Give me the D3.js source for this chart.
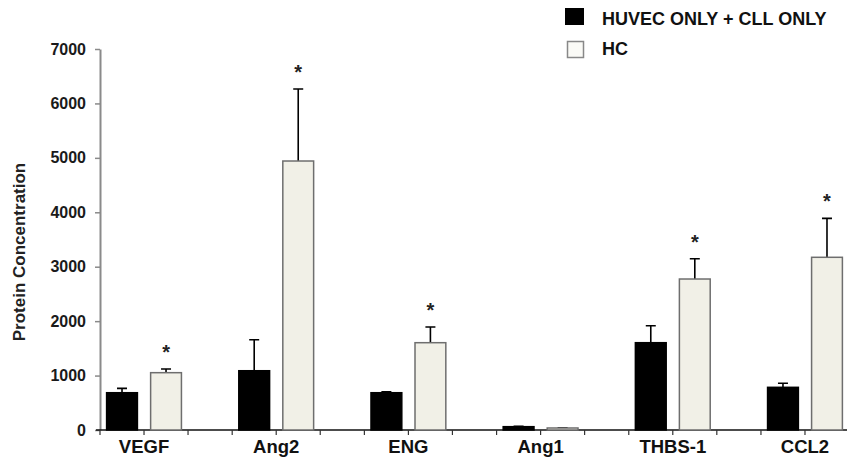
<!DOCTYPE html>
<html>
<head>
<meta charset="utf-8">
<script src="https://cdn.jsdelivr.net/npm/d3@7"></script>
<style>
  body { margin: 0; background: #fff; }
  text { font-family: "Liberation Sans", Arial, sans-serif; }
</style>
</head>
<body>
<div id="chart"></div>
<script>
const categories = ["VEGF", "Ang2", "ENG", "Ang1", "THBS-1", "CCL2"];
const seriesNames = ["HUVEC ONLY + CLL ONLY", "HC"];
const controlValues = [685, 1089, 685, 61, 1604, 784];
const controlErrors = [80, 570, 15, 5, 312, 74];
const hcValues = [1053, 4942, 1604, 37, 2774, 3173];
const hcErrors = [68, 1323, 288, 5, 373, 716];
const significant = [true, true, true, false, true, true];
const yTicks = [0, 1000, 2000, 3000, 4000, 5000, 6000, 7000];

const width = 847;
const height = 466;

const rows = categories.map((c, i) => ({
    category: c,
    bars: [
        { series: seriesNames[0], value: controlValues[i], error: controlErrors[i] },
        { series: seriesNames[1], value: hcValues[i], error: hcErrors[i] }
    ],
    star: significant[i]
}));

const svg = d3.select("#chart")
    .append("svg")
    .attr("width", width)
    .attr("height", height);

const x = d3.scaleBand()
    .domain(categories)
    .range([100, 849])
    .paddingInner(0.334)
    .paddingOuter(0);

const xSub = d3.scaleBand()
    .domain(seriesNames)
    .range([0, x.bandwidth()])
    .paddingInner(0.3)
    .paddingOuter(0.15);

const y = d3.scaleLinear()
    .domain([0, 7000])
    .range([430, 49]);

const colors = { [seriesNames[0]]: "#000", [seriesNames[1]]: "#f1f0e7" };
const strokes = { [seriesNames[0]]: "#000", [seriesNames[1]]: "#6e6e6e" };

// y axis
const yAxis = svg.append("g")
    .attr("transform", "translate(100,0)")
    .call(d3.axisLeft(y).tickValues(yTicks).tickFormat(d3.format("d"))
        .tickSize(5).tickPadding(9).tickSizeOuter(0));
yAxis.select(".domain").attr("stroke", "#8a8a8a").attr("stroke-width", 2);
yAxis.selectAll(".tick line").attr("stroke", "#8a8a8a").attr("stroke-width", 1.5);
yAxis.selectAll(".tick text")
    .attr("font-size", 16)
    .attr("font-weight", "bold")
    .attr("fill", "#1a1a1a")
    .style("font-family", "'Liberation Sans', Arial, sans-serif");

svg.append("text")
    .attr("transform", "translate(25,252) rotate(-90)")
    .attr("text-anchor", "middle")
    .attr("font-size", 17)
    .attr("font-weight", "bold")
    .attr("fill", "#222")
    .text("Protein Concentration");

// x axis
const xAxis = svg.append("g")
    .attr("transform", "translate(0,430)")
    .call(d3.axisBottom(x).tickSize(0).tickPadding(10));
xAxis.select(".domain").remove();
xAxis.selectAll(".tick text")
    .attr("font-size", 18.5)
    .attr("font-weight", "bold")
    .attr("fill", "#111")
    .style("font-family", "'Liberation Sans', Arial, sans-serif");

svg.append("line")
    .attr("x1", 96).attr("x2", 851)
    .attr("y1", 430).attr("y2", 430)
    .attr("stroke", "#111").attr("stroke-width", 1.5);

const tickXs = [];
categories.forEach(c => {
    tickXs.push(x(c), x(c) + x.bandwidth() / 2, x(c) + x.bandwidth());
});
svg.append("g").selectAll("line")
    .data(tickXs)
    .enter()
    .append("line")
    .attr("x1", d => d).attr("x2", d => d)
    .attr("y1", 430).attr("y2", 435)
    .attr("stroke", "#333").attr("stroke-width", 1.2);

// bars
const groups = svg.append("g").selectAll("g")
    .data(rows)
    .enter()
    .append("g")
    .attr("transform", d => `translate(${x(d.category)},0)`);

groups.selectAll(".err")
    .data(d => d.bars)
    .enter()
    .append("path")
    .attr("class", "err")
    .attr("d", d => {
        const cx = xSub(d.series) + xSub.bandwidth() / 2;
        const top = y(d.value + d.error);
        return `M${cx},${y(d.value)}V${top}M${cx - 5},${top}H${cx + 5}`;
    })
    .attr("stroke", "#000")
    .attr("stroke-width", 1.6)
    .attr("fill", "none");

groups.selectAll(".bar")
    .data(d => d.bars)
    .enter()
    .append("rect")
    .attr("class", "bar")
    .attr("x", d => xSub(d.series))
    .attr("y", d => y(d.value))
    .attr("width", xSub.bandwidth())
    .attr("height", d => y(0) - y(d.value))
    .attr("fill", d => colors[d.series])
    .attr("stroke", d => strokes[d.series])
    .attr("stroke-width", 1.5);

groups.filter(d => d.star)
    .append("text")
    .attr("x", xSub(seriesNames[1]) + xSub.bandwidth() / 2)
    .attr("y", d => y(d.bars[1].value + d.bars[1].error) - 10)
    .attr("text-anchor", "middle")
    .attr("font-size", 20)
    .attr("font-weight", "bold")
    .attr("fill", "#222")
    .text("*");

// legend
const legend = svg.append("g");
legend.append("rect")
    .attr("x", 565).attr("y", 8).attr("width", 19).attr("height", 17)
    .attr("fill", "#000");
legend.append("rect")
    .attr("x", 567.5).attr("y", 41.5).attr("width", 16).attr("height", 16)
    .attr("fill", "#fafaf6").attr("stroke", "#888").attr("stroke-width", 1.5);
legend.selectAll("text")
    .data(seriesNames)
    .enter()
    .append("text")
    .attr("x", 602)
    .attr("y", (d, i) => 25 + i * 30)
    .attr("font-size", 18)
    .attr("font-weight", "bold")
    .attr("fill", "#111")
    .text(d => d);
</script>
</body>
</html>
